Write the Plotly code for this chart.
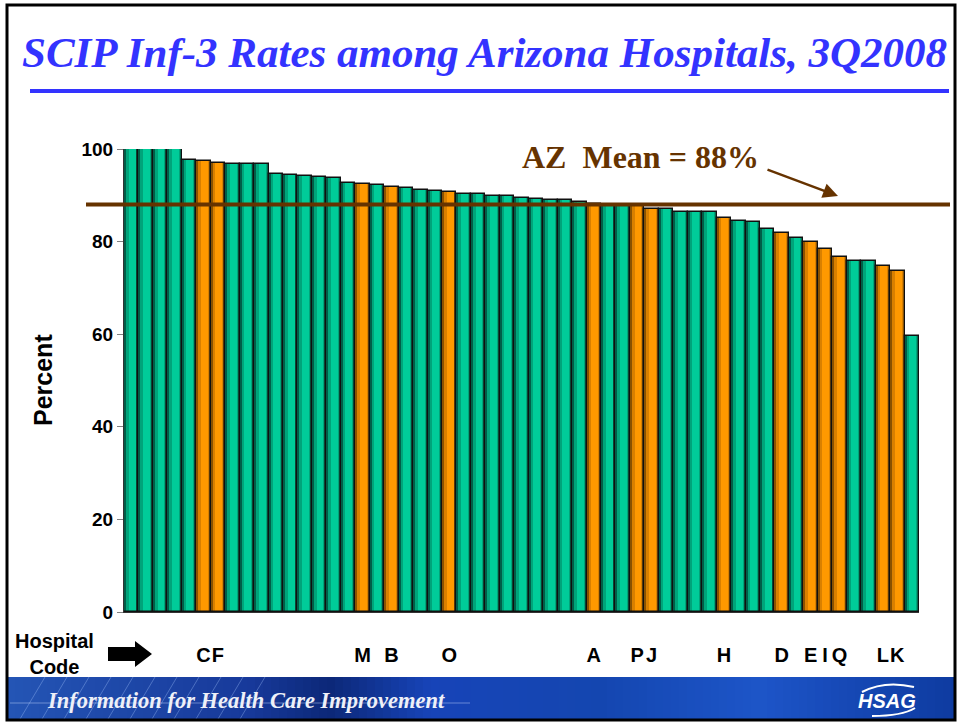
import plotly.graph_objects as go

# ---------------- data ----------------
rates = [100, 100, 100, 100, 97.7, 97.5, 97.0, 96.8, 96.8, 96.7,
         94.5, 94.3, 94.1, 93.9, 93.7, 92.6, 92.4, 92.2, 91.9, 91.65,
         91.2, 91.0, 90.8, 90.2, 90.2, 89.9, 89.9, 89.5, 89.2, 88.9,
         88.9, 88.6, 88.2, 87.6, 87.6, 87.6, 87.0, 87.0, 86.3, 86.3,
         86.3, 85.0, 84.4, 84.2, 82.7, 81.8, 80.7, 79.9, 78.4, 76.6,
         75.9, 75.8, 74.7, 73.6, 59.6]
codes = ["", "", "", "", "", "C", "F", "", "", "",
         "", "", "", "", "", "", "M", "", "B", "",
         "", "", "O", "", "", "", "", "", "", "",
         "", "", "A", "", "", "P", "J", "", "", "",
         "", "H", "", "", "", "D", "", "E", "I", "Q",
         "", "", "L", "K", ""]
az_mean = 88
y_ticks = [0, 20, 40, 60, 80, 100]

title_text = "SCIP Inf-3 Rates among Arizona Hospitals, 3Q2008"
mean_label = "AZ  Mean = 88%"
y_title = "Percent"
x_title = "Hospital<br>Code"
banner_text = "Information for Health Care Improvement"
logo_text = "HSAG"

# ---------------- geometry helpers ----------------
W, H = 959, 723
L, R, T, B = 124, 919, 149, 612
PW, PH = R - L, B - T


def px(x):
    return (x - L) / PW


def py(y):
    return (B - y) / PH


positions = list(range(1, len(rates) + 1))
labeled = [c != "" for c in codes]

dark = ["#8A5200" if f else "#005E48" for f in labeled]
mid = ["#D98000" if f else "#00A47A" for f in labeled]
bright = ["#FF9900" if f else "#00CC99" for f in labeled]

fig = go.Figure()
fig.add_trace(go.Bar(x=positions, y=rates, width=1.0, offset=-0.5,
                     marker=dict(color=dark, line=dict(width=0)),
                     hoverinfo="skip", showlegend=False))
fig.add_trace(go.Bar(x=positions, y=rates, width=0.8, offset=-0.36,
                     marker=dict(color=mid, line=dict(width=0)),
                     hoverinfo="skip", showlegend=False))
fig.add_trace(go.Bar(x=positions, y=rates, width=0.48, offset=-0.18,
                     marker=dict(color=bright, line=dict(width=0)),
                     hoverinfo="skip", showlegend=False))
fig.add_trace(go.Bar(x=positions, y=rates, width=1.0, offset=-0.5,
                     marker=dict(color="rgba(0,0,0,0)",
                                 line=dict(width=1.4, color="#101010")),
                     showlegend=False))

tickvals = [p for p, c in zip(positions, codes) if c]
ticktext = [c for c in codes if c]

fig.update_layout(
    width=W, height=H, autosize=False,
    margin=dict(l=L, r=W - R, t=T, b=H - B, pad=0),
    paper_bgcolor="white", plot_bgcolor="white",
    barmode="overlay", bargap=0,
    xaxis=dict(range=[0.5, len(rates) + 0.5], showgrid=False, zeroline=False,
               showline=True, linecolor="#333333", linewidth=1,
               tickmode="array", tickvals=tickvals, ticktext=ticktext,
               ticks="", tickangle=0, ticklabelstandoff=25,
               tickfont=dict(family="Liberation Sans, Arial", size=20,
                             color="black", weight="bold")),
    yaxis=dict(range=[0, 100], showgrid=False, zeroline=False,
               showline=True, linecolor="#333333", linewidth=1,
               tickmode="array", tickvals=y_ticks,
               ticks="outside", ticklen=6, tickcolor="#808080",
               tickfont=dict(family="Liberation Sans, Arial", size=19,
                             color="black", weight="bold")),
)

shapes = []
# banner gradient strips
stops = [(7, (36, 85, 181)), (250, (23, 57, 154)), (330, (12, 40, 120)),
         (430, (23, 68, 184)), (600, (20, 70, 176)), (760, (29, 85, 200)),
         (850, (22, 72, 181)), (955, (14, 59, 160))]


def col_at(x):
    for (x0, c0), (x1, c1) in zip(stops[:-1], stops[1:]):
        if x0 <= x <= x1:
            t = (x - x0) / (x1 - x0)
            return "rgb(%d,%d,%d)" % tuple(round(a + (b - a) * t) for a, b in zip(c0, c1))
    return "rgb(%d,%d,%d)" % stops[-1][1]


step = 8
for x0 in range(7, 955, step):
    x1 = min(x0 + step + 1, 955)
    shapes.append(dict(type="rect", xref="paper", yref="paper",
                       x0=px(x0), x1=px(x1), y0=py(719), y1=py(677),
                       fillcolor=col_at(x0 + step / 2), line=dict(width=0),
                       layer="above"))
# faint grid lines in banner
for gx in range(20, 260, 22):
    shapes.append(dict(type="line", xref="paper", yref="paper",
                       x0=px(gx), x1=px(gx + 25), y0=py(719), y1=py(677),
                       line=dict(color="rgba(170,200,255,0.35)", width=1),
                       layer="above"))
shapes.append(dict(type="line", xref="paper", yref="paper",
                   x0=px(10), x1=px(470), y0=py(703), y1=py(703),
                   line=dict(color="rgba(200,220,255,0.45)", width=1),
                   layer="above"))
# HSAG swooshes
shapes.append(dict(type="path", xref="paper", yref="paper",
                   path="M %f,%f Q %f,%f %f,%f" % (px(862), py(692), px(885), py(680),
                                                  px(914), py(687)),
                   line=dict(color="white", width=2), layer="above"))
shapes.append(dict(type="path", xref="paper", yref="paper",
                   path="M %f,%f Q %f,%f %f,%f" % (px(872), py(716), px(902), py(716),
                                                  px(915), py(708)),
                   line=dict(color="white", width=2), layer="above"))
# title underline
shapes.append(dict(type="line", xref="paper", yref="paper",
                   x0=px(30), x1=px(949), y0=py(91), y1=py(91),
                   line=dict(color="#3333FF", width=4)))
# mean line
shapes.append(dict(type="line", xref="paper", yref="y",
                   x0=px(86), x1=px(950), y0=az_mean, y1=az_mean,
                   line=dict(color="#663300", width=4), layer="above"))
# block arrow next to "Hospital Code"
ax0, ax1, axh = 108, 152, 135
path = "M %f,%f L %f,%f L %f,%f L %f,%f L %f,%f L %f,%f L %f,%f Z" % (
    px(ax0), py(647), px(axh), py(647), px(axh), py(641), px(ax1), py(654),
    px(axh), py(667), px(axh), py(661), px(ax0), py(661))
shapes.append(dict(type="path", xref="paper", yref="paper", path=path,
                   fillcolor="black", line=dict(width=0)))
# page border
shapes.append(dict(type="rect", xref="paper", yref="paper",
                   x0=px(7), x1=px(955), y0=py(720), y1=py(5),
                   line=dict(color="black", width=3), fillcolor="rgba(0,0,0,0)",
                   layer="above"))
fig.update_layout(shapes=shapes)

annotations = [
    dict(text="<b><i>%s</i></b>" % title_text, xref="paper", yref="paper",
         x=px(484), y=py(53), xanchor="center", yanchor="middle", showarrow=False,
         font=dict(family="Liberation Serif, Times New Roman", size=43, color="#3333FF")),
    dict(text="<b>%s</b>" % mean_label, xref="paper", yref="paper",
         x=px(520), y=py(157), xanchor="left", yanchor="middle", showarrow=False,
         font=dict(family="Liberation Serif, Times New Roman", size=32, color="#663300")),
    dict(text="", xref="paper", yref="paper", x=px(838), y=py(196),
         ax=766 - 838, ay=169 - 196, axref="pixel", ayref="pixel",
         showarrow=True, arrowhead=2, arrowsize=1.2, arrowwidth=2.5,
         arrowcolor="#663300"),
    dict(text="<b>%s</b>" % y_title, xref="paper", yref="paper",
         x=px(43), y=py(380), textangle=-90, xanchor="center", yanchor="middle",
         showarrow=False,
         font=dict(family="Liberation Sans, Arial", size=25, color="black")),
    dict(text="<b>%s</b>" % x_title, xref="paper", yref="paper",
         x=px(54), y=py(654), xanchor="center", yanchor="middle", showarrow=False,
         font=dict(family="Liberation Sans, Arial", size=20, color="black")),
    dict(text="<b><i>%s</i></b>" % banner_text, xref="paper", yref="paper",
         x=px(45), y=py(700), xanchor="left", yanchor="middle", showarrow=False,
         font=dict(family="Liberation Serif, Times New Roman", size=22.5, color="#EEF0F8")),
    dict(text="<b><i>%s</i></b>" % logo_text, xref="paper", yref="paper",
         x=px(887), y=py(701), xanchor="center", yanchor="middle", showarrow=False,
         font=dict(family="Liberation Sans, Arial", size=20, color="white")),
]
fig.update_layout(annotations=annotations)

fig.write_html("out.html",
               config={"displayModeBar": False},
               post_script="document.body.style.margin='0px';"
                           "document.body.style.overflow='hidden';")
